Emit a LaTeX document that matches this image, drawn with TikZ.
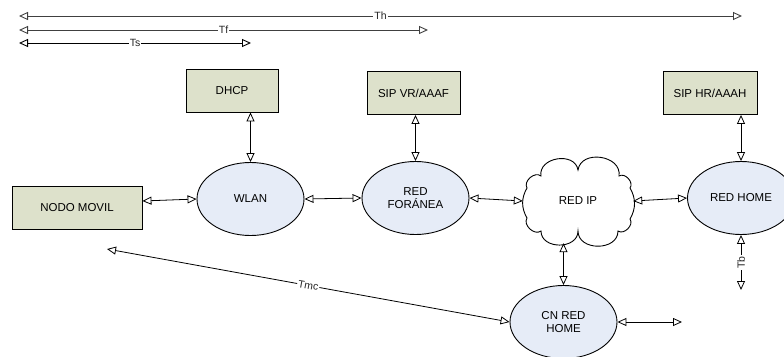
\documentclass[tikz,border=0pt]{standalone}
\usepackage{fontspec}
\setmainfont{Liberation Sans}
\usetikzlibrary{shapes.geometric,arrows.meta,calc}

\definecolor{boxfill}{RGB}{221,225,203}
\definecolor{ellfill}{RGB}{230,236,247}

\tikzset{
  box/.style={draw=black, line width=0.9pt, fill=boxfill, rectangle,
    minimum height=43pt, inner sep=0pt, font=\fontsize{11.5}{13}\selectfont},
  net/.style={draw=black, line width=0.9pt, fill=ellfill, ellipse,
    minimum width=107pt, minimum height=73pt, inner sep=0pt,
    font=\fontsize{11.5}{13.5}\selectfont, align=center},
  conn/.style={line width=0.8pt, black, {Triangle[open, length=9pt, width=8pt]}-{Triangle[open, length=9pt, width=8pt]}},
  span/.style={line width=0.9pt, black!75, {Triangle[open, length=9pt, width=8pt]}-{Triangle[open, length=9pt, width=8pt]}},
  lbl/.style={fill=white, inner sep=1pt, text=black!85, font=\fontsize{10.5}{12}\selectfont},
  lobe/.style={bend left=90, looseness=1.3},
  puff/.style={bend left=80, looseness=1.1},
  side/.style={bend left=30}
}

\begin{document}
\begin{tikzpicture}[x=1pt, y=-1pt]
\useasboundingbox (0,0) rectangle (784,356);

% timing spans along the top
\coordinate (thL) at (19,16);  \coordinate (thR) at (742,16);
\coordinate (tfL) at (19,30);  \coordinate (tfR) at (428,30);
\coordinate (tsL) at (19,43);  \coordinate (tsR) at (251,43);
\draw[span] (thL) -- node[lbl] {Th} (thR);
\draw[span] (tfL) -- node[lbl] {Tf} (tfR);
\draw[span, black] (tsL) -- node[lbl] {Ts} (tsR);

% servers
\node[box, minimum width=92pt] (dhcp) at (232,90.5) {DHCP};
\node[box, minimum width=93pt] (sipvr) at (413.5,93) {SIP VR/AAAF};
\node[box, minimum width=94pt] (siphr) at (710,93) {SIP HR/AAAH};
\node[box, minimum width=130pt] (nm) at (77,207.5) {NODO MOVIL};

% networks
\node[net] (wlan) at (250.5,199) {WLAN};
\node[net] (redfor) at (415.5,198) {RED\\FORÁNEA};
\node[net] (redhome) at (741,198) {RED HOME};
\node[net] (cnrh) at (563.5,322) {CN RED\\HOME};

% IP cloud: outline drawn around an invisible anchor node
\draw[line width=0.9pt, fill=white, shift={(578,201)}]
  (-37,-25) to[lobe] (0,-31) to[lobe] (41,-25)
  to[puff] (52,-13) to[side] (52,18) to[puff] (40,30)
  to[lobe] (0,30) to[lobe] (-37,30) to[puff] (-51,17)
  to[side] (-51,-13) to[puff] cycle;
\node[ellipse, minimum width=110pt, minimum height=84pt, inner sep=0pt,
  font=\fontsize{11.5}{13}\selectfont] (redip) at (578,201) {RED IP};

% free ends
\coordinate (tbEnd) at (741,290);
\coordinate (cnEnd) at (682,322);
\coordinate (tmcEnd) at (107,249);

% links
\draw[conn] ($(nm.east)+(0,-6.5)$) -- (wlan.west);
\draw[conn] (wlan.east) -- (redfor.west);
\draw[conn] (redfor.east) -- (redip.west);
\draw[conn] (redip.east) -- (redhome.west);
\draw[conn] (dhcp.south -| wlan.north) -- (wlan.north);
\draw[conn] (sipvr.south -| redfor.north) -- (redfor.north);
\draw[conn] (siphr.south -| redhome.north) -- (redhome.north);
\draw[conn] (redip.south -| cnrh.north) -- (cnrh.north);
\draw[conn] (cnrh.east) -- (cnEnd);
\draw[conn] (redhome.south) -- node[lbl, rotate=90] {Tb} (tbEnd);
\draw[conn] (tmcEnd) -- node[lbl, sloped] {Tmc} (cnrh.west);
\end{tikzpicture}
\end{document}
